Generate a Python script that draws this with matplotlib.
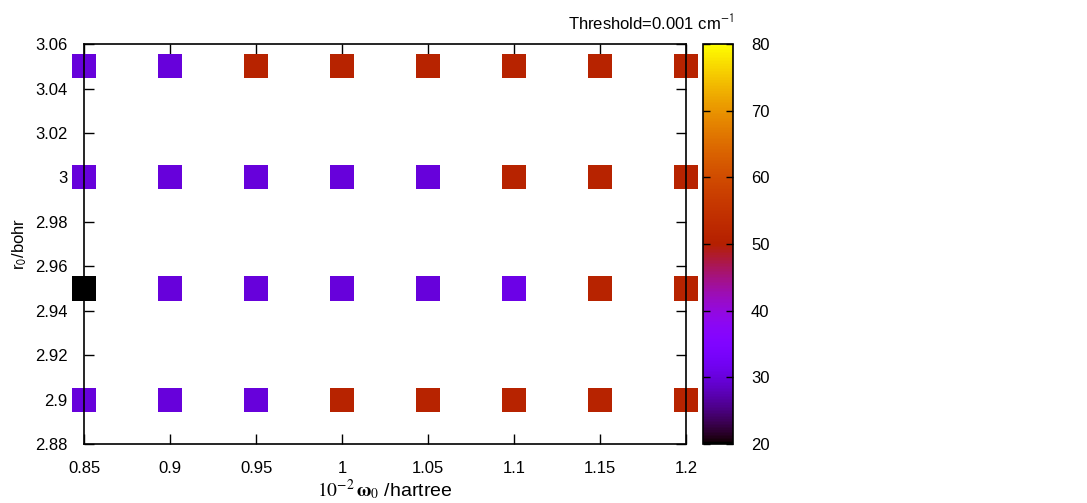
import numpy as np
import matplotlib.pyplot as plt
from matplotlib.colors import ListedColormap

plt.rcParams['font.family'] = ['Liberation Sans', 'DejaVu Sans']
plt.rcParams['mathtext.fontset'] = 'stix'

# grid of parameters
omega = [0.85, 0.9, 0.95, 1.0, 1.05, 1.1, 1.15, 1.2]
r0 = [2.9, 2.95, 3.0, 3.05]
# values per row (r0), one per omega column
val_290 = [30, 30, 30, 51, 51, 51, 51, 51]
val_295 = [20, 30, 30, 30, 30, 31, 51, 51]
val_300 = [30, 30, 30, 30, 30, 51, 51, 51]
val_305 = [30, 30, 51, 51, 51, 51, 51, 51]
rows = [val_290, val_295, val_300, val_305]

# gnuplot rgbformulae 7,5,15
t = np.linspace(0, 1, 256)
cols = np.c_[np.sqrt(t), t ** 3, np.clip(np.sin(2 * np.pi * t), 0, 1)]
cmap = ListedColormap(cols)

fig = plt.figure(figsize=(10.87, 5.03), dpi=100)
ax = fig.add_axes([0.0773, 0.1173, 0.554, 0.795])
cax = fig.add_axes([0.6467, 0.1173, 0.0276, 0.795])

X, Y = np.meshgrid(omega, r0)
Z = np.array(rows)
sc = ax.scatter(X.ravel(), Y.ravel(), c=Z.ravel(), cmap=cmap, vmin=20, vmax=80,
                marker='s', s=300, linewidths=0, clip_on=False, zorder=3)

ax.set_xlim(0.85, 1.2)
ax.set_ylim(2.88, 3.06)
ax.set_xticks(omega)
ax.set_xticklabels(['0.85', '0.9', '0.95', '1', '1.05', '1.1', '1.15', '1.2'])
ax.set_yticks(np.arange(2.88, 3.061, 0.02))
ax.set_yticklabels(['2.88', '2.9', '2.92', '2.94', '2.96', '2.98', '3', '3.02', '3.04', '3.06'])
ax.tick_params(direction='in', length=7, width=1, top=True, right=True,
               labelsize=12, pad=12)
ax.tick_params(axis='y', pad=12)
for s in ax.spines.values():
    s.set_linewidth(1.2)
    s.set_zorder(4)

ax.set_xlabel(r'$10^{-2}\,\mathbf{\omega}_0$ /hartree', fontsize=14, labelpad=1)
ax.set_ylabel(r'r$_\mathsf{0}$/bohr', fontsize=12, labelpad=4)

cb = fig.colorbar(sc, cax=cax, ticks=[20, 30, 40, 50, 60, 70, 80])
cb.outline.set_linewidth(1.2)
cax.tick_params(direction='in', length=5, width=1, left=True, right=True,
                labelsize=12, pad=13)

fig.text(0.599, 0.954, r'Threshold=0.001 cm$^\mathsf{-1}$', fontsize=12,
         ha='center', va='center')

fig.savefig('out.png', dpi=100)
